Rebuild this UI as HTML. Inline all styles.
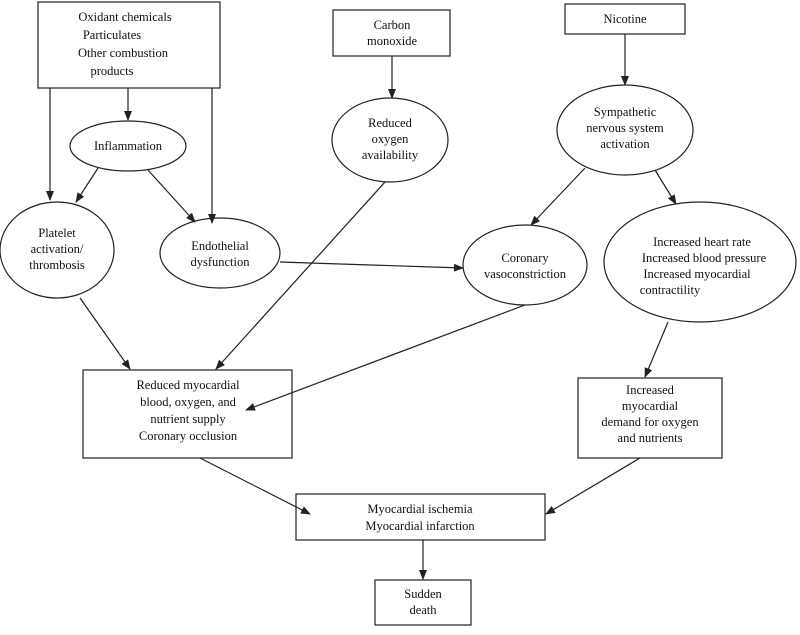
<!DOCTYPE html>
<html><head><meta charset="utf-8"><style>
html,body{margin:0;padding:0;background:#fff}
svg text{font-family:"Liberation Serif",serif;font-size:12.5px;fill:#111;text-anchor:middle}
</style></head><body>
<svg width="800" height="630" viewBox="0 0 800 630" xmlns="http://www.w3.org/2000/svg">
<defs><marker id="a" markerWidth="10" markerHeight="8" refX="9" refY="4" orient="auto" markerUnits="userSpaceOnUse"><path d="M0,0 L10,4 L0,8 z" fill="#222"/></marker></defs>
<g fill="#fff" stroke="#222" stroke-width="1.2">
<rect x="38" y="2" width="182" height="86"/>
<rect x="333" y="10" width="117" height="46"/>
<rect x="565" y="4" width="120" height="30"/>
<ellipse cx="128" cy="146" rx="58" ry="25"/>
<ellipse cx="390" cy="140" rx="58" ry="42"/>
<ellipse cx="625" cy="130" rx="68" ry="45"/>
<ellipse cx="57" cy="250" rx="57" ry="48"/>
<ellipse cx="220" cy="253" rx="60" ry="35"/>
<ellipse cx="525" cy="265" rx="62" ry="40"/>
<ellipse cx="700" cy="262" rx="96" ry="60"/>
<rect x="83" y="370" width="209" height="88"/>
<rect x="578" y="378" width="144" height="80"/>
<rect x="296" y="494" width="249" height="46"/>
<rect x="375" y="580" width="96" height="45"/>
</g>
<g stroke="#222" stroke-width="1.2" marker-end="url(#a)">
<line x1="128" y1="88" x2="128" y2="120"/>
<line x1="50" y1="88" x2="50" y2="200"/>
<line x1="212" y1="88" x2="212" y2="223"/>
<line x1="98" y1="168" x2="76" y2="202"/>
<line x1="148" y1="170" x2="195" y2="222"/>
<line x1="392" y1="56" x2="392" y2="98"/>
<line x1="625" y1="34" x2="625" y2="85"/>
<line x1="585" y1="168" x2="531" y2="225"/>
<line x1="655" y1="170" x2="676" y2="204"/>
<line x1="280" y1="262" x2="463" y2="268"/>
<line x1="385" y1="182" x2="216" y2="369"/>
<line x1="80" y1="298" x2="130" y2="369"/>
<line x1="525" y1="305" x2="246" y2="410"/>
<line x1="668" y1="322" x2="645" y2="377"/>
<line x1="200" y1="458" x2="310" y2="514"/>
<line x1="640" y1="458" x2="546" y2="514"/>
<line x1="423" y1="540" x2="423" y2="579"/>
</g>
<text x="125" y="21">Oxidant chemicals</text>
<text x="112" y="39">Particulates</text>
<text x="123" y="57">Other combustion</text>
<text x="112" y="75">products</text>
<text x="392" y="29">Carbon</text>
<text x="392" y="45">monoxide</text>
<text x="625" y="23">Nicotine</text>
<text x="128" y="150">Inflammation</text>
<text x="390" y="127">Reduced</text>
<text x="390" y="143">oxygen</text>
<text x="390" y="159">availability</text>
<text x="625" y="116">Sympathetic</text>
<text x="625" y="132">nervous system</text>
<text x="625" y="148">activation</text>
<text x="57" y="237">Platelet</text>
<text x="57" y="253">activation/</text>
<text x="57" y="269">thrombosis</text>
<text x="220" y="250">Endothelial</text>
<text x="220" y="266">dysfunction</text>
<text x="525" y="262">Coronary</text>
<text x="525" y="278">vasoconstriction</text>
<text x="702" y="246">Increased heart rate</text>
<text x="704" y="262">Increased blood pressure</text>
<text x="697" y="278">Increased myocardial</text>
<text x="670" y="294">contractility</text>
<text x="188" y="389">Reduced myocardial</text>
<text x="188" y="406">blood, oxygen, and</text>
<text x="188" y="423">nutrient supply</text>
<text x="188" y="440">Coronary occlusion</text>
<text x="650" y="394">Increased</text>
<text x="650" y="410">myocardial</text>
<text x="650" y="426">demand for oxygen</text>
<text x="650" y="442">and nutrients</text>
<text x="420" y="513">Myocardial ischemia</text>
<text x="420" y="530">Myocardial infarction</text>
<text x="423" y="598">Sudden</text>
<text x="423" y="614">death</text>
</svg>
</body></html>
